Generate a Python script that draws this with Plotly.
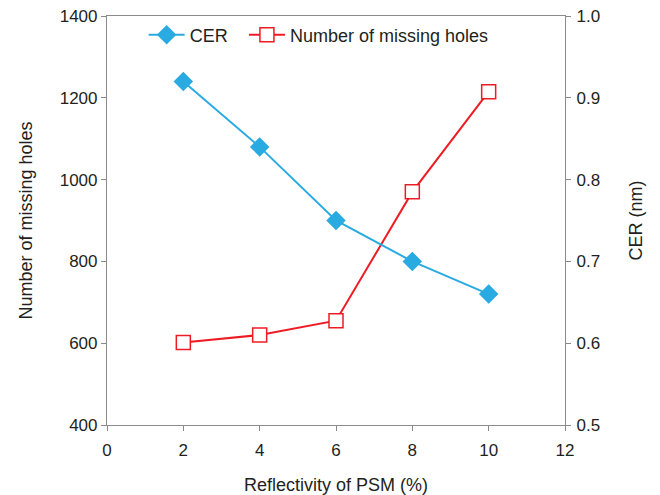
import plotly.graph_objects as go

reflectivity = [2, 4, 6, 8, 10]
cer_nm = [0.92, 0.84, 0.75, 0.70, 0.66]
missing_holes = [602, 620, 655, 970, 1215]

x_ticks = [0, 2, 4, 6, 8, 10, 12]
y_ticks = [400, 600, 800, 1000, 1200, 1400]
y2_ticks = [0.5, 0.6, 0.7, 0.8, 0.9, 1.0]

blue = "#29abe2"
red = "#ed1c24"
axis_gray = "#8a8a8a"
text_col = "#231f20"
font_fam = "Liberation Sans, Arial, sans-serif"

fig = go.Figure()
fig.add_trace(go.Scatter(
    x=reflectivity, y=cer_nm, name="CER", yaxis="y2",
    mode="lines+markers",
    line=dict(color=blue, width=2),
    marker=dict(symbol="diamond", size=15, color=blue),
    legend="legend",
))
fig.add_trace(go.Scatter(
    x=reflectivity, y=missing_holes, name="Number of missing holes",
    mode="lines+markers",
    line=dict(color=red, width=2),
    marker=dict(symbol="square", size=14, color="white",
                line=dict(color=red, width=1.5)),
    legend="legend2",
))

axis_common = dict(showgrid=False, zeroline=False, showline=True,
                   linecolor=axis_gray, linewidth=1.2,
                   ticks="outside", ticklen=5, tickcolor=axis_gray,
                   automargin=False, ticklabeloverflow="allow",
                   tickfont=dict(size=17, color=text_col, family=font_fam))

legend_common = dict(orientation="h", y=0.9535, xanchor="left", yanchor="middle",
                     bgcolor="rgba(0,0,0,0)", font=dict(size=18, color=text_col),
                     itemwidth=36)

fig.update_layout(
    width=660, height=495,
    margin=dict(l=107, r=95, t=16, b=70),
    paper_bgcolor="white", plot_bgcolor="white",
    font=dict(family=font_fam, color=text_col, size=17),
    showlegend=True,
    legend=dict(x=0.08, **legend_common),
    legend2=dict(x=0.299, **legend_common),
    xaxis=dict(range=[0, 12], tickvals=x_ticks, mirror=True, ticklabelstandoff=4,
               title=dict(text="Reflectivity of PSM (%)", font=dict(size=18), standoff=22),
               **axis_common),
    yaxis=dict(range=[400, 1400], tickvals=y_ticks,
               title=dict(text="Number of missing holes", font=dict(size=18), standoff=22),
               **axis_common),
    yaxis2=dict(range=[0.5, 1.0], tickvals=y2_ticks, overlaying="y", side="right",
                tickformat=".1f", ticklabelstandoff=2,
                title=dict(text="CER (nm)", font=dict(size=18), standoff=30),
                **axis_common),
)

fig.write_html("out.html", config={"displayModeBar": False},
               post_script="document.body.style.margin='0';")
